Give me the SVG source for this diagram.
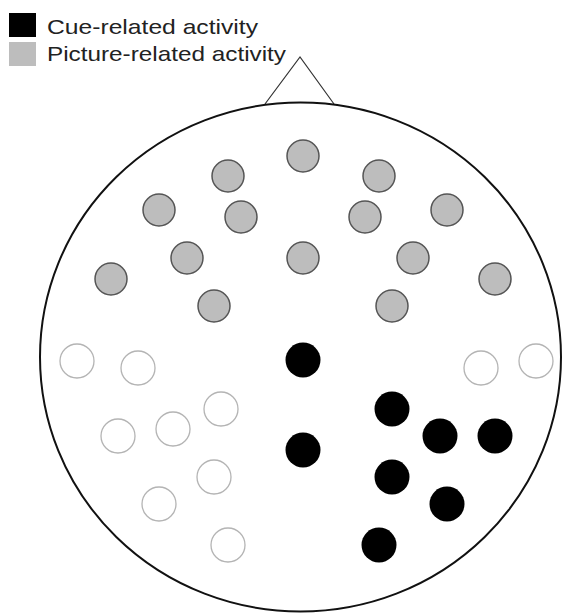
<svg xmlns="http://www.w3.org/2000/svg" width="562" height="613" viewBox="0 0 562 613">
<style>
.lbl{font-family:"Liberation Sans",Arial,sans-serif;font-size:21px;fill:#222}
.g{fill:#bdbdbd;stroke:#555;stroke-width:1.5}
.b{fill:#000;stroke:none}
.o{fill:#fff;stroke:#b4b4b4;stroke-width:1.3}
</style>
<rect width="562" height="613" fill="#fff"/>
<g id="legend">
<rect x="9" y="13" width="27" height="24" fill="#000"/>
<rect x="9" y="42" width="27" height="24" fill="#bdbdbd"/>
<text class="lbl" x="47" y="34" textLength="211" lengthAdjust="spacingAndGlyphs">Cue-related activity</text>
<text class="lbl" x="47" y="61" textLength="239" lengthAdjust="spacingAndGlyphs">Picture-related activity</text>
</g>
<g id="head">
<polyline points="265,104 300,57 334,104" fill="none" stroke="#333" stroke-width="1.2"/>
<ellipse cx="300.5" cy="357" rx="260.5" ry="254.5" fill="none" stroke="#111" stroke-width="2"/>
</g>
<g id="picture-electrodes">
<circle class="g" cx="303" cy="156" r="16"/>
<circle class="g" cx="228" cy="176" r="16"/>
<circle class="g" cx="379" cy="176" r="16"/>
<circle class="g" cx="159" cy="210" r="16"/>
<circle class="g" cx="447" cy="210" r="16"/>
<circle class="g" cx="241" cy="217" r="16"/>
<circle class="g" cx="365" cy="217" r="16"/>
<circle class="g" cx="187" cy="258" r="16"/>
<circle class="g" cx="303" cy="258" r="16"/>
<circle class="g" cx="413" cy="258" r="16"/>
<circle class="g" cx="111" cy="279" r="16"/>
<circle class="g" cx="495" cy="279" r="16"/>
<circle class="g" cx="214" cy="306" r="16"/>
<circle class="g" cx="392" cy="306" r="16"/>
</g>
<g id="cue-electrodes">
<circle class="b" cx="303" cy="360" r="17.5"/>
<circle class="b" cx="392" cy="409" r="17.5"/>
<circle class="b" cx="440" cy="436" r="17.5"/>
<circle class="b" cx="495" cy="436" r="17.5"/>
<circle class="b" cx="303" cy="450" r="17.5"/>
<circle class="b" cx="392" cy="477" r="17.5"/>
<circle class="b" cx="447" cy="504" r="17.5"/>
<circle class="b" cx="379" cy="545" r="17.5"/>
</g>
<g id="inactive-electrodes">
<circle class="o" cx="77" cy="361" r="17"/>
<circle class="o" cx="138" cy="368" r="17"/>
<circle class="o" cx="481" cy="368" r="17"/>
<circle class="o" cx="536" cy="361" r="17"/>
<circle class="o" cx="221" cy="409" r="17"/>
<circle class="o" cx="173" cy="429" r="17"/>
<circle class="o" cx="118" cy="436" r="17"/>
<circle class="o" cx="214" cy="477" r="17"/>
<circle class="o" cx="159" cy="504" r="17"/>
<circle class="o" cx="228" cy="545" r="17"/>
</g>
</svg>
